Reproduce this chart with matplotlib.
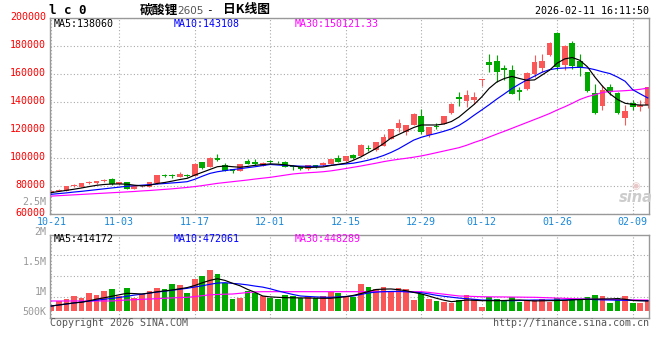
import numpy as np
import matplotlib
matplotlib.use('Agg')
import matplotlib.pyplot as plt
import matplotlib.transforms as mtransforms

# ---- data (lithium carbonate 2605) ----
DATE_LABELS = ['10-21', '11-03', '11-17', '12-01', '12-15', '12-29', '01-12', '01-26', '02-09']
DATE_IDX = [0, 9, 19, 29, 39, 49, 57, 67, 77]

OPEN = [75500, 77000, 76800, 80300, 79800, 82400, 82300, 83800, 85000, 81400,
        82800, 78300, 80200, 79500, 82100, 88100, 87600, 86800, 88000, 87600,
        97100, 93800, 100500, 95000, 92100, 91000, 98300, 97600, 94500, 97800,
        97500, 97400, 94500, 94000, 92300, 95000, 95000, 96000, 100500, 97800,
        102400, 101700, 107500, 106000, 109000, 113800, 121700, 118800, 123800, 130200,
        116600, 123100, 124500, 132100, 144100, 140800, 141900, 155900, 168800, 169300,
        164500, 163300, 148500, 149300, 160500, 164500, 173600, 189500, 166900, 182400,
        169300, 161700, 146700, 137100, 151000, 146700, 128800, 139500, 136700, 137900]
HIGH = [77000, 78300, 80300, 81500, 82500, 83600, 84000, 85000, 85600, 83200,
        83400, 80500, 81200, 83400, 88400, 88800, 88500, 90200, 88700, 96300,
        97600, 100900, 103100, 96400, 92500, 96000, 99800, 99300, 97400, 98500,
        98000, 97800, 95000, 94300, 95300, 95300, 97300, 99800, 102400, 102000,
        103100, 110000, 109800, 112000, 117400, 121200, 128300, 124100, 132100, 135000,
        122400, 125500, 130500, 139700, 147100, 148600, 147400, 156400, 174300, 173600,
        166400, 166400, 151000, 161500, 173600, 174800, 182800, 190200, 180700, 183800,
        174800, 161900, 153300, 152100, 152800, 147100, 138300, 141400, 141400, 151200]
LOW = [75200, 76600, 76600, 79800, 79500, 81800, 82000, 83000, 81200, 81000,
       78000, 78000, 79800, 79200, 82000, 86500, 86000, 86300, 86800, 87300,
       92500, 93500, 98300, 90700, 89800, 90700, 95700, 95300, 94300, 96500,
       96800, 93500, 91800, 92000, 91500, 93000, 94200, 95800, 97300, 97500,
       99800, 101400, 105200, 105500, 108500, 113500, 118600, 116600, 123500, 117400,
       115400, 120700, 124200, 131400, 137600, 136700, 138600, 151700, 161700, 154500,
       155700, 145700, 141400, 148600, 158300, 161700, 172900, 162900, 163000, 164000,
       158800, 147600, 132000, 134300, 145300, 132000, 124000, 134800, 134100, 135800]
CLOSE = [76600, 77700, 80000, 80700, 82200, 82800, 83700, 84100, 81500, 82800,
         78300, 80200, 80600, 83100, 88100, 87500, 87200, 88500, 87600, 96000,
         93100, 100500, 98800, 91000, 91000, 95700, 96000, 96000, 96900, 97300,
         97100, 94000, 94100, 92300, 95000, 93500, 96900, 99500, 97600, 101700,
         100500, 109500, 106800, 111700, 115200, 120900, 125500, 123800, 131400, 118800,
         122100, 122100, 130200, 138800, 142400, 145100, 143800, 156300, 166900, 161700,
         162900, 146200, 147700, 161000, 168800, 169300, 182400, 165200, 180000, 165900,
         164800, 148100, 132400, 148600, 147400, 132400, 133800, 136700, 138300, 151000]

MA5 = [75500, 76300, 77100, 77900, 78800, 79800, 80700, 81300, 81600, 81700,
       81500, 80800, 80300, 80700, 82000, 82700, 83700, 84800, 85700, 88000,
       90000, 92000, 94000, 94500, 94000, 93600, 94200, 95000, 95500, 96000,
       95800, 95300, 94600, 93800, 93500, 93600, 93800, 94800, 95700, 96500,
       98600, 101000, 104000, 107000, 110500, 114500, 117000, 119500, 122000, 123800,
       123800, 123800, 124500, 126300, 129500, 134000, 138500, 143800, 150000, 154500,
       157000, 158500, 157000, 155700, 156000, 159500, 163000, 168000, 171000, 172000,
       170000, 165400, 158000, 151500, 146000, 142000, 139300, 138500, 138000, 138060]
MA10 = [74300, 74800, 75300, 75900, 76400, 77000, 77600, 78200, 78800, 79400,
        80000, 80400, 80800, 81200, 81600, 82000, 82400, 82800, 83300, 85000,
        87200, 89200, 90400, 91200, 91900, 92600, 93300, 94000, 94800, 95600,
        95200, 94900, 94600, 94400, 94300, 94300, 94500, 95000, 95500, 96000,
        96500, 97500, 98700, 100200, 102000, 104200, 106800, 109900, 113000, 115000,
        116500, 117800, 119300, 121000, 123500, 126900, 130800, 134500, 138300, 142300,
        146000, 149800, 153000, 156000, 158700, 161500, 163300, 164200, 164500, 164800,
        165000, 164500, 163300, 161800, 160500, 158000, 155000, 149000, 146000, 143108]
MA30 = [73000, 73300, 73600, 73900, 74200, 74500, 74800, 75100, 75400, 75700,
        76000, 76300, 76700, 77000, 77400, 77800, 78200, 78700, 79200, 79800,
        80500, 81300, 82100, 82700, 83300, 83900, 84500, 85200, 85800, 86400,
        87200, 88000, 88800, 89300, 89700, 90000, 90400, 91000, 91800, 92700,
        93600, 94500, 95500, 96500, 97600, 98500, 99300, 100000, 100800, 101700,
        102800, 104000, 105200, 106400, 107600, 109300, 111300, 113100, 115200, 117300,
        119300, 121400, 123500, 125600, 127700, 129800, 132000, 134500, 136800, 139300,
        142000, 144000, 145400, 147000, 147800, 148000, 148300, 148700, 149300, 150121]

# volume in thousands, on the scale of the panel's own labels
VOL_K = [833, 917, 950, 1000, 962, 1055, 1017, 1083, 1117, 1000,
         1133, 967, 1033, 1078, 1130, 1117, 1200, 1183, 1055, 1283,
         1333, 1433, 1367, 1212, 950, 967, 1088, 1045, 1000, 967,
         950, 1017, 1000, 967, 1000, 967, 1000, 1072, 1055, 1000,
         988, 1200, 1150, 1117, 1150, 1083, 1133, 1117, 933, 1033,
         950, 917, 900, 883, 933, 1017, 950, 812, 983, 950,
         933, 983, 900, 933, 933, 950, 900, 967, 933, 933,
         933, 983, 1017, 1000, 883, 967, 1000, 883, 883, 933]
VMA5_K = [833, 850, 868, 885, 895, 920, 948, 970, 995, 1020,
          1045, 1040, 1033, 1050, 1070, 1085, 1100, 1120, 1140, 1175,
          1220, 1260, 1288, 1260, 1212, 1170, 1110, 1060, 1000, 985,
          978, 972, 970, 968, 966, 964, 962, 962, 975, 988,
          1010, 1040, 1075, 1108, 1115, 1117, 1105, 1088, 1060, 1035,
          1000, 962, 930, 905, 918, 933, 928, 922, 922, 922,
          925, 930, 933, 925, 917, 920, 922, 925, 928, 935,
          940, 945, 948, 950, 952, 955, 945, 925, 920, 917]
VMA10_K = [833, 850, 866, 883, 900, 915, 930, 945, 960, 975,
           995, 1015, 1030, 1048, 1065, 1080, 1095, 1112, 1128, 1150,
           1170, 1195, 1215, 1222, 1210, 1200, 1185, 1165, 1148, 1120,
           1085, 1055, 1025, 1000, 992, 985, 980, 978, 985, 992,
           1000, 1025, 1050, 1065, 1072, 1075, 1078, 1070, 1062, 1055,
           1035, 1012, 995, 980, 965, 955, 945, 933, 930, 926,
           922, 922, 925, 930, 933, 933, 933, 933, 935, 940,
           943, 945, 940, 935, 933, 930, 928, 926, 924, 922]
VMA30_K = [917, 917, 917, 917, 917, 917, 917, 917, 917, 925,
           933, 938, 944, 950, 955, 962, 968, 974, 978, 990,
           1005, 1020, 1025, 1030, 1033, 1045, 1058, 1068, 1072, 1072,
           1072, 1072, 1072, 1072, 1072, 1072, 1072, 1072, 1072, 1072,
           1072, 1072, 1072, 1072, 1072, 1072, 1072, 1072, 1072, 1072,
           1060, 1045, 1030, 1015, 1000, 996, 992, 988, 986, 985,
           984, 982, 981, 979, 978, 974, 970, 965, 960, 956,
           952, 948, 945, 943, 941, 939, 937, 935, 934, 933]

PRICE_TICKS = [60000, 80000, 100000, 120000, 140000, 160000, 180000, 200000]
VOL_LABELS = ['2.5M', '2M', '1.5M', '1M', '500K']
VOL_LABEL_K = [2500, 2000, 1500, 1000, 500]

UP, DOWN = '#fa5858', '#00a800'
GRID = '#aaaaaa'
EDGE = '#999999'
MONO = 'DejaVu Sans Mono'
FS = 7.2

W, H = 660, 360
fx = lambda px: px / W
fy = lambda py: 1 - py / H

fig = plt.figure(figsize=(W / 100, H / 100), dpi=100)
ax = fig.add_axes([fx(50), fy(214.3), 599.3 / W, 196 / H])
axv = fig.add_axes([fx(50), fy(317.7), 599.3 / W, 83 / H])

x = np.arange(len(OPEN))
o, h, l, c = (np.array(a, dtype=float) for a in (OPEN, HIGH, LOW, CLOSE))
cols = [UP if cc >= oo else DOWN for oo, cc in zip(o, c)]

# ---- price panel ----
ax.vlines(x, l, h, colors=cols, linewidth=0.8, zorder=2)
ax.bar(x, np.maximum(np.abs(c - o), 600), bottom=np.minimum(o, c), width=0.76,
       color=cols, linewidth=0, zorder=2)
ax.plot(x, MA30, color='#ff00ff', lw=0.85, zorder=3)
ax.plot(x, MA10, color='#0000ff', lw=0.85, zorder=3)
ax.plot(x, MA5, color='black', lw=0.85, zorder=3)

xlim = (-0.17, 79.2)
ax.set_xlim(*xlim)
ax.set_ylim(60000, 200000)
ax.set_yticks(PRICE_TICKS)
ax.set_yticklabels([str(v) for v in PRICE_TICKS], color='red', fontsize=FS, family=MONO)
ax.set_xticks(DATE_IDX)
ax.set_xticklabels(DATE_LABELS, color='#1a88d8', fontsize=FS, family=MONO)
ax.tick_params(length=0, pad=3)
ax.tick_params(axis='x', pad=1.8)
ax.grid(color=GRID, ls=(0, (1, 2)), lw=0.8)
ax.set_axisbelow(True)
off = mtransforms.ScaledTranslation(0, 0.02, fig.dpi_scale_trans)
for lab in ax.get_yticklabels():
    lab.set_transform(lab.get_transform() + off)

# ---- volume panel ----
vlo, vhi, vbase = 638, 2022, 755
v = np.array(VOL_K, dtype=float)
axv.bar(x, v - vbase, bottom=vbase, width=0.76, color=cols, linewidth=0, zorder=2)
axv.plot(x, VMA30_K, color='#ff00ff', lw=0.85, zorder=3)
axv.plot(x, VMA10_K, color='#0000ff', lw=0.85, zorder=3)
axv.plot(x, VMA5_K, color='black', lw=0.85, zorder=3)
axv.set_xlim(*xlim)
axv.set_ylim(vlo, vhi)
axv.set_yticks([vlo + (vhi - vlo) * k / 4 for k in (1, 2, 3)])
axv.set_yticklabels([])
axv.set_xticks(DATE_IDX)
axv.set_xticklabels([])
axv.tick_params(length=0)
axv.grid(color=GRID, ls=(0, (1, 2)), lw=0.8)
axv.set_axisbelow(True)

# volume labels sit just above their value; the lowest one is held at the panel floor
tr = mtransforms.blended_transform_factory(fig.transFigure, axv.transData)
tr = tr + mtransforms.ScaledTranslation(0, 0.013, fig.dpi_scale_trans)
for txt, val in zip(VOL_LABELS, VOL_LABEL_K):
    axv.text(fx(46.5), max(val, vlo + 29), txt, transform=tr, ha='right', va='baseline',
             color=EDGE, fontsize=FS, family=MONO, clip_on=False)

for a in (ax, axv):
    for s in a.spines.values():
        s.set_color(EDGE)
        s.set_linewidth(1.0)

# ---- legends / titles ----
def ftext(px, py, s, **kw):
    kw.setdefault('fontsize', FS)
    kw.setdefault('family', MONO)
    fig.text(fx(px), fy(py), s, va='center', **kw)

ftext(54, 24, 'MA5:138060', color='black')
ftext(174, 24, 'MA10:143108', color='#0000ff')
ftext(295, 24, 'MA30:150121.33', color='#ff00ff')
ftext(54, 238.5, 'MA5:414172', color='black')
ftext(174, 238.5, 'MA10:472061', color='#0000ff')
ftext(295, 238.5, 'MA30:448289', color='#ff00ff')

ftext(49, 11, 'l c 0', color='black', fontweight='bold', fontsize=9)
ftext(140, 10, '碳酸锂', color='black', family='Noto Sans CJK SC', fontsize=9.2,
      fontweight='bold')
ftext(177, 10.5, '2605', color='#555555', family='DejaVu Sans', fontsize=7.5)
ftext(206, 10, '-', color='black', family=MONO, fontsize=8)
ftext(223, 10, '日K线图', color='black', family='Noto Sans CJK SC', fontsize=9.2,
      fontweight='bold')
ftext(649, 11.5, '2026-02-11 16:11:50', color='black', ha='right')

ftext(50, 323.5, 'Copyright 2026 SINA.COM', color='#555555')
ftext(649, 323.5, 'http://finance.sina.com.cn', color='#555555', ha='right')

# faint sina watermark
fig.text(fx(636), fy(197), 'sina', color='#cccccc', fontsize=10.5, fontweight='bold',
         style='italic', ha='center', va='center', family='DejaVu Sans')
fig.text(fx(636), fy(186), '◉', color='#e8c8c8', fontsize=7, ha='center', va='center',
         family='DejaVu Sans')

fig.savefig('out.png', dpi=100)
